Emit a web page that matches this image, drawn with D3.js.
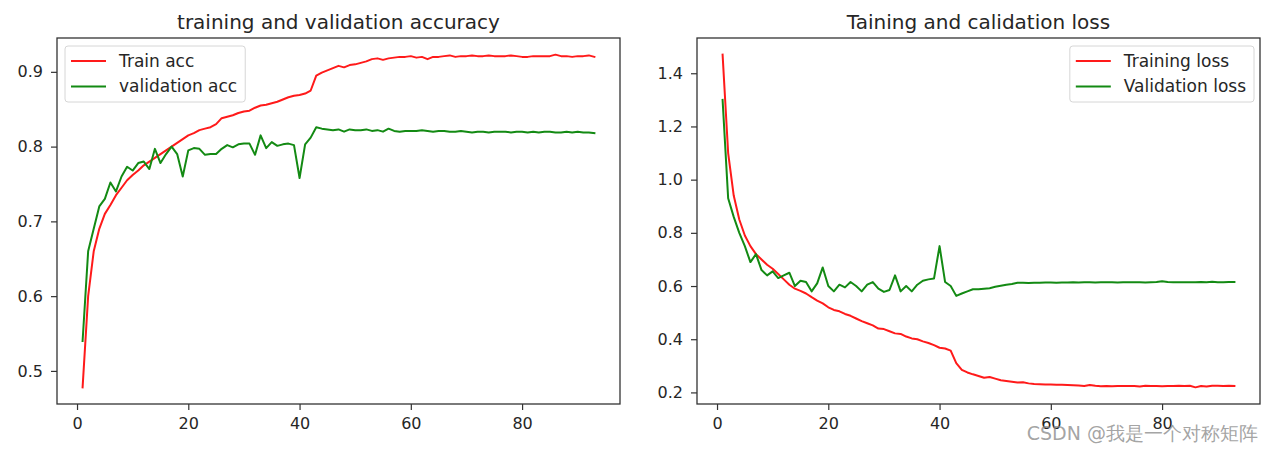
<!DOCTYPE html>
<html>
<head>
<meta charset="utf-8">
<script src="https://cdn.jsdelivr.net/npm/d3@7"></script>
<style>
  html, body { margin: 0; padding: 0; background: #fff; }
  svg { display: block; }
  text { font-family: "DejaVu Sans", sans-serif; fill: #262626; }
</style>
</head>
<body>
<svg id="chart" width="1272" height="450"></svg>
<script>
// ---------------- DATA ----------------
const epochs = d3.range(1, 94);

const trainAcc = [
  0.478, 0.600, 0.660, 0.690, 0.710, 0.722, 0.735, 0.745, 0.755, 0.762,
  0.768, 0.775, 0.780, 0.785, 0.790, 0.795, 0.800, 0.805, 0.810, 0.815,
  0.818, 0.822, 0.824, 0.826, 0.830, 0.838, 0.840, 0.842, 0.845, 0.847,
  0.848, 0.852, 0.855, 0.856, 0.858, 0.860, 0.863, 0.866, 0.868, 0.869,
  0.871, 0.875, 0.895, 0.899, 0.902, 0.905, 0.908, 0.906, 0.909, 0.910,
  0.912, 0.914, 0.917, 0.918, 0.916, 0.918, 0.919, 0.920, 0.920, 0.921,
  0.919, 0.920, 0.917, 0.920, 0.920, 0.921, 0.922, 0.920, 0.921, 0.921,
  0.922, 0.921, 0.921, 0.922, 0.921, 0.921, 0.921, 0.922, 0.921, 0.920,
  0.920, 0.921, 0.921, 0.921, 0.921, 0.923, 0.921, 0.921, 0.920, 0.921,
  0.921, 0.922, 0.920
];

const valAcc = [
  0.540, 0.660, 0.690, 0.720, 0.730, 0.752, 0.740, 0.760, 0.773, 0.768,
  0.778, 0.780, 0.770, 0.797, 0.778, 0.790, 0.800, 0.790, 0.760, 0.795,
  0.798, 0.797, 0.789, 0.790, 0.790, 0.797, 0.802, 0.799, 0.803, 0.804,
  0.804, 0.789, 0.815, 0.798, 0.806, 0.801, 0.803, 0.804, 0.802, 0.758,
  0.803, 0.812, 0.826, 0.824, 0.823, 0.822, 0.823, 0.820, 0.823, 0.822,
  0.822, 0.823, 0.821, 0.822, 0.820, 0.824, 0.821, 0.820, 0.821, 0.821,
  0.821, 0.822, 0.821, 0.820, 0.821, 0.821, 0.820, 0.820, 0.821, 0.820,
  0.819, 0.820, 0.820, 0.819, 0.820, 0.820, 0.820, 0.819, 0.820, 0.820,
  0.819, 0.820, 0.819, 0.820, 0.820, 0.819, 0.819, 0.820, 0.819, 0.820,
  0.819, 0.819, 0.818
];

const trainLoss = [
  1.470, 1.100, 0.940, 0.850, 0.790, 0.750, 0.720, 0.700, 0.680, 0.665,
  0.645, 0.625, 0.605, 0.590, 0.582, 0.572, 0.558, 0.545, 0.535, 0.520,
  0.510, 0.505, 0.495, 0.488, 0.478, 0.468, 0.460, 0.452, 0.440, 0.438,
  0.430, 0.422, 0.420, 0.410, 0.403, 0.400, 0.392, 0.386, 0.378, 0.368,
  0.365, 0.357, 0.310, 0.285, 0.275, 0.268, 0.262, 0.255, 0.258, 0.252,
  0.246, 0.243, 0.240, 0.237, 0.238, 0.234, 0.232, 0.231, 0.230, 0.230,
  0.229, 0.229, 0.228, 0.227, 0.226, 0.224, 0.228, 0.225, 0.223, 0.224,
  0.223, 0.224, 0.224, 0.224, 0.224, 0.222, 0.225, 0.224, 0.224, 0.223,
  0.224, 0.224, 0.225, 0.224, 0.225, 0.219, 0.224, 0.222, 0.225, 0.225,
  0.224, 0.225, 0.224
];

const valLoss = [
  1.300, 0.930, 0.860, 0.800, 0.750, 0.690, 0.720, 0.660, 0.640, 0.655,
  0.630, 0.640, 0.650, 0.600, 0.620, 0.615, 0.580, 0.610, 0.670, 0.600,
  0.580, 0.605, 0.595, 0.615, 0.600, 0.580, 0.605, 0.615, 0.590, 0.578,
  0.585, 0.640, 0.580, 0.600, 0.580, 0.605, 0.620, 0.625, 0.628, 0.750,
  0.615, 0.600, 0.563, 0.572, 0.580, 0.588, 0.588, 0.590, 0.592, 0.597,
  0.601, 0.605, 0.608, 0.612, 0.612, 0.611, 0.612, 0.612, 0.613, 0.613,
  0.612, 0.613, 0.613, 0.614, 0.613, 0.614, 0.614, 0.613, 0.614, 0.614,
  0.614, 0.613, 0.614, 0.614, 0.614, 0.614, 0.613, 0.614, 0.615, 0.618,
  0.615, 0.614, 0.614, 0.614, 0.614, 0.614, 0.615, 0.614, 0.616, 0.614,
  0.614, 0.615, 0.615
];

const xTicks = [0, 20, 40, 60, 80];
const accTicks = [0.5, 0.6, 0.7, 0.8, 0.9];
const lossTicks = [0.2, 0.4, 0.6, 0.8, 1.0, 1.2, 1.4];

const panels = [
  {
    title: "training and validation accuracy",
    series: [
      { name: "Train acc", values: trainAcc, color: "#ff1a1a" },
      { name: "validation acc", values: valAcc, color: "#138a13" }
    ],
    yTicks: accTicks,
    legend: "left",
    box: { x0: 57, x1: 620, y0: 38, y1: 404 }
  },
  {
    title: "Taining and calidation loss",
    series: [
      { name: "Training loss", values: trainLoss, color: "#ff1a1a" },
      { name: "Validation loss", values: valLoss, color: "#138a13" }
    ],
    yTicks: lossTicks,
    legend: "right",
    box: { x0: 697, x1: 1260, y0: 38, y1: 404 }
  }
];

// ---------------- DRAW ----------------
const svg = d3.select("#chart");

function padDomain(lo, hi) {
  const m = (hi - lo) * 0.05;
  return [lo - m, hi + m];
}

panels.forEach(p => {
  const b = p.box;
  const x = d3.scaleLinear()
    .domain(padDomain(d3.min(epochs), d3.max(epochs)))
    .range([b.x0, b.x1]);
  const allVals = p.series.flatMap(s => s.values);
  const y = d3.scaleLinear()
    .domain(padDomain(d3.min(allVals), d3.max(allVals)))
    .range([b.y1, b.y0]);

  const g = svg.append("g");

  // lines
  const line = d3.line()
    .x((d, i) => x(epochs[i]))
    .y(d => y(d));
  p.series.forEach(s => {
    g.append("path")
      .datum(s.values)
      .attr("fill", "none")
      .attr("stroke", s.color)
      .attr("stroke-width", 2)
      .attr("stroke-linejoin", "round")
      .attr("stroke-linecap", "square")
      .attr("d", line);
  });

  // frame
  g.append("rect")
    .attr("x", b.x0).attr("y", b.y0)
    .attr("width", b.x1 - b.x0).attr("height", b.y1 - b.y0)
    .attr("fill", "none").attr("stroke", "#333").attr("stroke-width", 1.3);

  // axes
  const xAxis = d3.axisBottom(x).tickValues(xTicks).tickFormat(d3.format("d"))
    .tickSizeInner(6).tickSizeOuter(0).tickPadding(8);
  const xg = g.append("g").attr("transform", `translate(0,${b.y1})`).call(xAxis);
  const yAxis = d3.axisLeft(y).tickValues(p.yTicks).tickFormat(d3.format(".1f"))
    .tickSizeInner(6).tickSizeOuter(0).tickPadding(8);
  const yg = g.append("g").attr("transform", `translate(${b.x0},0)`).call(yAxis);
  [xg, yg].forEach(ax => {
    ax.select(".domain").remove();
    ax.selectAll(".tick line").attr("stroke", "#333").attr("stroke-width", 1.2);
    ax.selectAll(".tick text")
      .attr("font-family", "DejaVu Sans, sans-serif")
      .attr("font-size", 16)
      .attr("fill", "#262626");
  });

  // title
  g.append("text")
    .attr("x", (b.x0 + b.x1) / 2)
    .attr("y", b.y0 - 9)
    .attr("text-anchor", "middle")
    .attr("font-size", 20)
    .text(p.title);

  // legend
  const lg = g.append("g");
  const frame = lg.append("rect");
  const texts = p.series.map(s => lg.append("text")
      .attr("font-size", 17).attr("dy", "0.35em").text(s.name));
  const maxW = d3.max(texts, t => t.node().getComputedTextLength());
  const lw = 6 + 35 + 13 + maxW + 8;
  const lx = p.legend === "left" ? b.x0 + 8 : b.x1 - 6 - lw;
  const ly = b.y0 + 8;
  frame
    .attr("x", lx).attr("y", ly).attr("width", lw).attr("height", 56)
    .attr("rx", 3).attr("fill", "#fff").attr("fill-opacity", 0.8)
    .attr("stroke", "#d6d6d6").attr("stroke-width", 1);
  p.series.forEach((s, i) => {
    const yy = ly + 15 + i * 25.5;
    lg.append("line")
      .attr("x1", lx + 6).attr("x2", lx + 41)
      .attr("y1", yy).attr("y2", yy)
      .attr("stroke", s.color).attr("stroke-width", 2);
    texts[i].attr("x", lx + 54).attr("y", yy);
  });
});

// watermark (present in the reference image)
svg.append("text")
  .attr("x", 1258).attr("y", 440)
  .attr("text-anchor", "end")
  .attr("font-family", "Noto Sans CJK SC, sans-serif")
  .attr("font-size", 19)
  .style("fill", "#8c8c8c")
  .attr("fill-opacity", 0.8)
  .text("CSDN @我是一个对称矩阵");
</script>
</body>
</html>
